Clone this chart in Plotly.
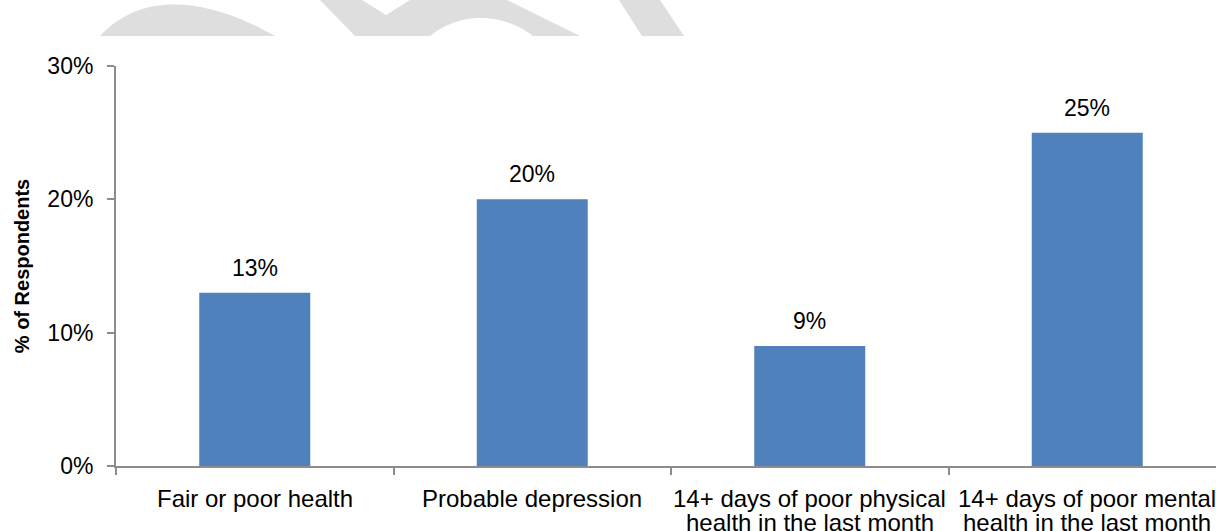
import plotly.graph_objects as go

# Survey outcomes and share of respondents reporting each
category_lines = [
    ["Fair or poor health"],
    ["Probable depression"],
    ["14+ days of poor physical", "health in the last month"],
    ["14+ days of poor mental", "health in the last month"],
]
categories = [" ".join(lines) for lines in category_lines]
values = [0.13, 0.20, 0.09, 0.25]
value_labels = ["13%", "20%", "9%", "25%"]
y_tick_vals = [0, 0.10, 0.20, 0.30]
y_tick_text = ["0%", "10%", "20%", "30%"]

W, H = 1216, 531
L, R, T, B = 116, 0, 66, 65
FONT = "Liberation Sans, Arial, sans-serif"
BAR = "#4f81bd"
AXIS = "#8c8c8c"
MARK = "#dedede"

fig = go.Figure(
    go.Bar(
        x=categories,
        y=values,
        width=0.4,
        marker=dict(color=BAR, line=dict(width=0)),
        hoverinfo="skip",
    )
)

# value labels above each bar
for cat, val, lab in zip(categories, values, value_labels):
    fig.add_annotation(
        x=cat, y=val, text=lab, showarrow=False,
        yanchor="bottom", yshift=10,
        font=dict(family=FONT, size=23, color="black"),
    )

# category labels, one annotation per line for tight line spacing
for cat, lines in zip(categories, category_lines):
    for i, line in enumerate(lines):
        fig.add_annotation(
            x=cat, y=0, text=line, showarrow=False,
            yanchor="top", yshift=-17 - 24 * i,
            font=dict(family=FONT, size=24, color="black"),
        )

# faint background watermark along the top edge (pixel -> paper helpers)
plot_w, plot_h = W - L - R, H - T - B


def px(xp):
    return (xp - L) / plot_w


def py(yp):
    return (H - B - yp) / plot_h


def bezier(p0, p1, p2, p3, n=24):
    pts = []
    for k in range(1, n + 1):
        t = k / n
        a, b, c, d = (1 - t) ** 3, 3 * (1 - t) ** 2 * t, 3 * (1 - t) * t ** 2, t ** 3
        pts.append((a * p0[0] + b * p1[0] + c * p2[0] + d * p3[0],
                    a * p0[1] + b * p1[1] + c * p2[1] + d * p3[1]))
    return pts


def polygon(pts):
    head = f"M {px(pts[0][0]):.5f},{py(pts[0][1]):.5f}"
    rest = " ".join(f"L {px(a):.5f},{py(b):.5f}" for a, b in pts[1:])
    return f"{head} {rest} Z"


arch = [(100, 36)] + bezier((100, 36), (140, -8), (205, -4), (275, 36))
band = ([(320, 0), (362, 0), (386, 15), (410, 0), (507, 0), (580, 36), (533, 36)]
        + bezier((533, 36), (505, 14), (462, 10), (430, 36))
        + [(355, 36)])
stroke = [(619, 0), (660, 0), (684, 36), (642, 36)]

for pts in (arch, band, stroke):
    fig.add_shape(
        type="path", path=polygon(pts), xref="paper", yref="paper",
        fillcolor=MARK, opacity=1, line=dict(width=0), layer="above",
    )

cat_w = 277.5
fig.update_layout(
    width=W, height=H,
    margin=dict(l=L, r=R, t=T, b=B, pad=0),
    paper_bgcolor="white", plot_bgcolor="white",
    showlegend=False,
    font=dict(family=FONT, size=23, color="black"),
    xaxis=dict(
        type="category",
        range=[-0.5, -0.5 + plot_w / cat_w],
        showticklabels=False,
        tickson="boundaries",
        ticks="outside", ticklen=7, tickwidth=2, tickcolor=AXIS,
        showline=True, linecolor=AXIS, linewidth=2,
        showgrid=False, zeroline=False, fixedrange=True,
    ),
    yaxis=dict(
        range=[0, 0.30],
        tickvals=y_tick_vals, ticktext=y_tick_text,
        ticks="outside", ticklen=7, tickwidth=2, tickcolor=AXIS,
        ticklabelstandoff=9,
        tickfont=dict(family=FONT, size=23, color="black"),
        showline=True, linecolor=AXIS, linewidth=2,
        showgrid=False, zeroline=False,
        title=dict(text="<b>% of Respondents</b>", standoff=12,
                   font=dict(family=FONT, size=20, color="black")),
    ),
)

fig.write_html("out.html")
